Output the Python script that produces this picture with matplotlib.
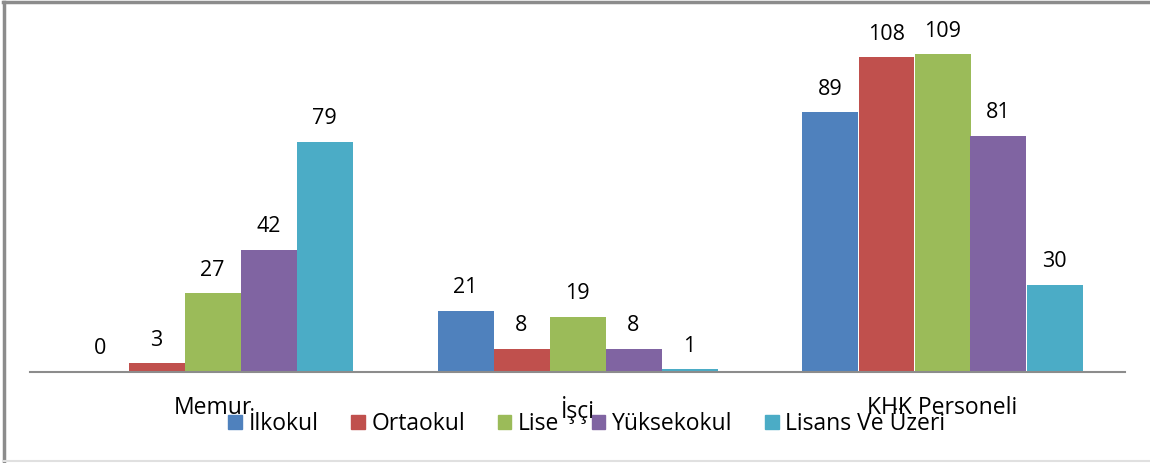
import numpy as np
import matplotlib.pyplot as plt
from matplotlib.patches import Rectangle
from matplotlib.lines import Line2D

plt.rcParams['font.family'] = ['Open Sans', 'DejaVu Sans']

categories = ['Memur', 'İşçi', 'KHK Personeli']
series = ['İlkokul', 'Ortaokul', 'Lise', 'Yüksekokul', 'Lisans Ve Üzeri']
values = {
    'İlkokul': [0, 21, 89],
    'Ortaokul': [3, 8, 108],
    'Lise': [27, 19, 109],
    'Yüksekokul': [42, 8, 81],
    'Lisans Ve Üzeri': [79, 1, 30],
}
colors = ['#4F81BD', '#C0504D', '#9BBB59', '#8064A2', '#4BACC6']

W, H = 1150, 463
fig = plt.figure(figsize=(W / 100, H / 100), dpi=100)

# axes: x 30..1125 px, baseline at y=372, top at y=22
ax = fig.add_axes([30 / W, 1 - 372 / H, 1095 / W, 350 / H])
ax.set_xlim(0, 3)
ax.set_ylim(0, 120)

x = np.arange(len(categories)) + 0.5
bw = 56 / 365
for i, (name, c) in enumerate(zip(series, colors)):
    pos = x + (i - 2) * bw
    ax.bar(pos, values[name], width=bw, color=c, label=name, clip_on=False)
    for xp, v in zip(pos, values[name]):
        ax.annotate(str(v), (xp, v), xytext=(0, 9), textcoords='offset points',
                    ha='center', va='bottom', fontsize=15.5, color='black')

for s in ['top', 'right', 'left']:
    ax.spines[s].set_visible(False)
ax.spines['bottom'].set_color('#8c8c8c')
ax.spines['bottom'].set_linewidth(1.5)
ax.set_yticks([])
ax.set_xticks(x)
ax.set_xticklabels(categories, fontsize=16.5)
ax.tick_params(axis='x', length=0, pad=17)

handles = [Rectangle((0, 0), 1, 1, color=c) for c in colors]
fig.legend(handles, series, loc='center', bbox_to_anchor=(587 / W, 1 - 424 / H),
           ncol=5, frameon=False, fontsize=16.5, handlelength=0.6, handleheight=0.6,
           handletextpad=0.3, columnspacing=1.4, borderpad=0)

# outer border
fig.add_artist(Line2D([3.5 / W, 3.5 / W], [0, 1 - 2 / H], color='#8c8c8c', lw=2.5))
fig.add_artist(Line2D([3 / W, 1], [1 - 2 / H, 1 - 2 / H], color='#8c8c8c', lw=2.5))
fig.add_artist(Line2D([3 / W, 1], [1 - 461 / H, 1 - 461 / H], color='#e0e0e0', lw=1.5))

fig.savefig('out.png', dpi=100)
